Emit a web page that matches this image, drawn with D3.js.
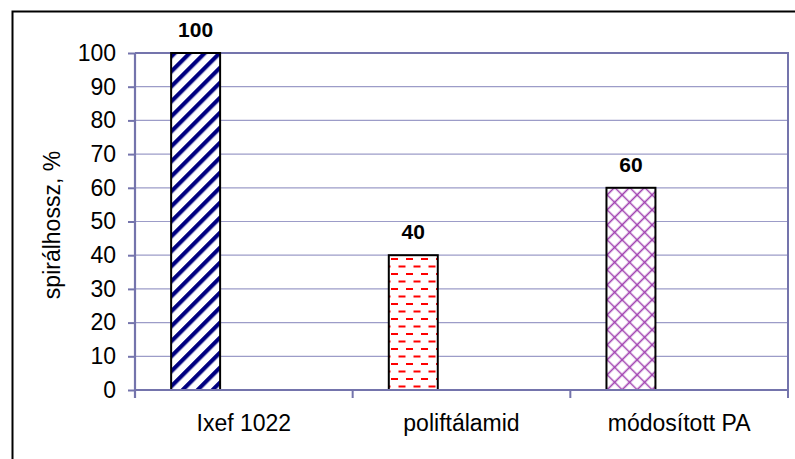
<!DOCTYPE html>
<html><head><meta charset="utf-8">
<script src="https://cdn.jsdelivr.net/npm/d3@7"></script>
<style>html,body{margin:0;padding:0;background:#fff;}svg{display:block;font-family:"Liberation Sans",Arial,sans-serif;}</style>
</head><body>
<script>
const categories = ["Ixef 1022", "poliftálamid", "módosított PA"];
const values = [100, 40, 60];
const yTicks = [0, 10, 20, 30, 40, 50, 60, 70, 80, 90, 100];
const patterns = ["stripe", "dash", "cross"];
const yTitle = "spirálhossz, %";

const W = 795, H = 459;
const plot = {left: 135, right: 788, top: 53, bottom: 390};
const svg = d3.select("body").append("svg").attr("width", W).attr("height", H);
const defs = svg.append("defs");

// stripe pattern
const p1 = defs.append("pattern").attr("id", "stripe").attr("patternUnits", "userSpaceOnUse")
  .attr("width", 10.6).attr("height", 10.6).attr("patternTransform", "rotate(45)");
p1.append("rect").attr("width", 10.6).attr("height", 10.6).attr("fill", "#fff");
p1.append("rect").attr("x", 0).attr("width", 4.2).attr("height", 10.6).attr("fill", "#000080");

// dash pattern
const p2 = defs.append("pattern").attr("id", "dash").attr("patternUnits", "userSpaceOnUse")
  .attr("width", 15).attr("height", 15).attr("x", 1).attr("y", 3);
p2.append("rect").attr("width", 15).attr("height", 15).attr("fill", "#fff");
p2.append("rect").attr("x", 0).attr("y", 0).attr("width", 7).attr("height", 2).attr("fill", "#ff0000");
p2.append("rect").attr("x", 7.5).attr("y", 7.5).attr("width", 7).attr("height", 2).attr("fill", "#ff0000");

// cross pattern
const p3 = defs.append("pattern").attr("id", "cross").attr("patternUnits", "userSpaceOnUse")
  .attr("width", 10.6).attr("height", 10.6).attr("patternTransform", "rotate(45)");
p3.append("rect").attr("width", 10.6).attr("height", 10.6).attr("fill", "#fff");
p3.append("path").attr("d", "M5.3,0V10.6M0,5.3H10.6").attr("stroke", "#a040b0").attr("stroke-width", 1.6);

// outer border
svg.append("rect").attr("x", 12.5).attr("y", 11.5).attr("width", 800).attr("height", 470)
  .attr("fill", "none").attr("stroke", "#000").attr("stroke-width", 2);

const x = d3.scaleBand().domain(categories).range([plot.left, plot.right]).padding(0);
const y = d3.scaleLinear().domain([0, 100]).range([plot.bottom, plot.top]);

// gridlines
svg.append("g").selectAll("line").data(yTicks.filter(d => d > 0 && d < 100)).join("line")
  .attr("x1", plot.left).attr("x2", plot.right)
  .attr("y1", d => y(d)).attr("y2", d => y(d))
  .attr("stroke", "#9c9cc8").attr("stroke-width", 1.2);

// plot border top/right
svg.append("path")
  .attr("d", `M${plot.left},${y(100)}H${plot.right}V${plot.bottom}`)
  .attr("fill", "none").attr("stroke", "#7474ac").attr("stroke-width", 2);

// bars
const bw = x.bandwidth();
svg.append("g").selectAll("rect").data(categories).join("rect")
  .attr("x", d => x(d) + bw * 0.166)
  .attr("width", bw * 0.225)
  .attr("y", (d, i) => y(values[i]))
  .attr("height", (d, i) => y(0) - y(values[i]))
  .attr("fill", (d, i) => `url(#${patterns[i]})`)
  .attr("stroke", "#000").attr("stroke-width", 2);

// value labels
svg.append("g").selectAll("text").data(categories).join("text")
  .attr("x", d => x(d) + bw * 0.166 + bw * 0.225 / 2)
  .attr("y", (d, i) => y(values[i]) - 16)
  .attr("text-anchor", "middle")
  .attr("font-weight", "bold").attr("font-size", 21)
  .text((d, i) => values[i]);

// y axis
const yAxis = d3.axisLeft(y).tickValues(yTicks).tickSize(7).tickPadding(12);
const gy = svg.append("g").attr("transform", `translate(${plot.left},0)`).call(yAxis);
gy.select(".domain").attr("stroke", "#7474ac").attr("stroke-width", 2.2)
  .attr("d", `M0,${plot.top}V${plot.bottom + 8}`);
gy.selectAll(".tick line").attr("stroke", "#7474ac").attr("stroke-width", 2);
gy.selectAll(".tick text").attr("font-size", 23).attr("fill", "#000")
  .attr("font-family", "Liberation Sans, Arial, sans-serif");

// x axis
const xAxis = d3.axisBottom(x).tickSize(0).tickPadding(25);
const gx = svg.append("g").attr("transform", `translate(0,${plot.bottom})`).call(xAxis);
gx.select(".domain").attr("stroke", "#7474ac").attr("stroke-width", 2.2)
  .attr("d", `M${plot.left},0H${plot.right}`);
gx.selectAll(".tick text").attr("font-size", 23).attr("fill", "#000")
  .attr("font-family", "Liberation Sans, Arial, sans-serif");
// boundary ticks
const bounds = categories.map(d => x(d)).concat([plot.right]);
gx.append("g").selectAll("line").data(bounds).join("line")
  .attr("x1", d => d).attr("x2", d => d).attr("y1", 0).attr("y2", 8)
  .attr("stroke", "#7474ac").attr("stroke-width", 2);

// y title
svg.append("text")
  .attr("transform", `translate(60,225) rotate(-90)`)
  .attr("text-anchor", "middle").attr("font-size", 23).attr("fill", "#000")
  .text(yTitle);
</script>
</body></html>
